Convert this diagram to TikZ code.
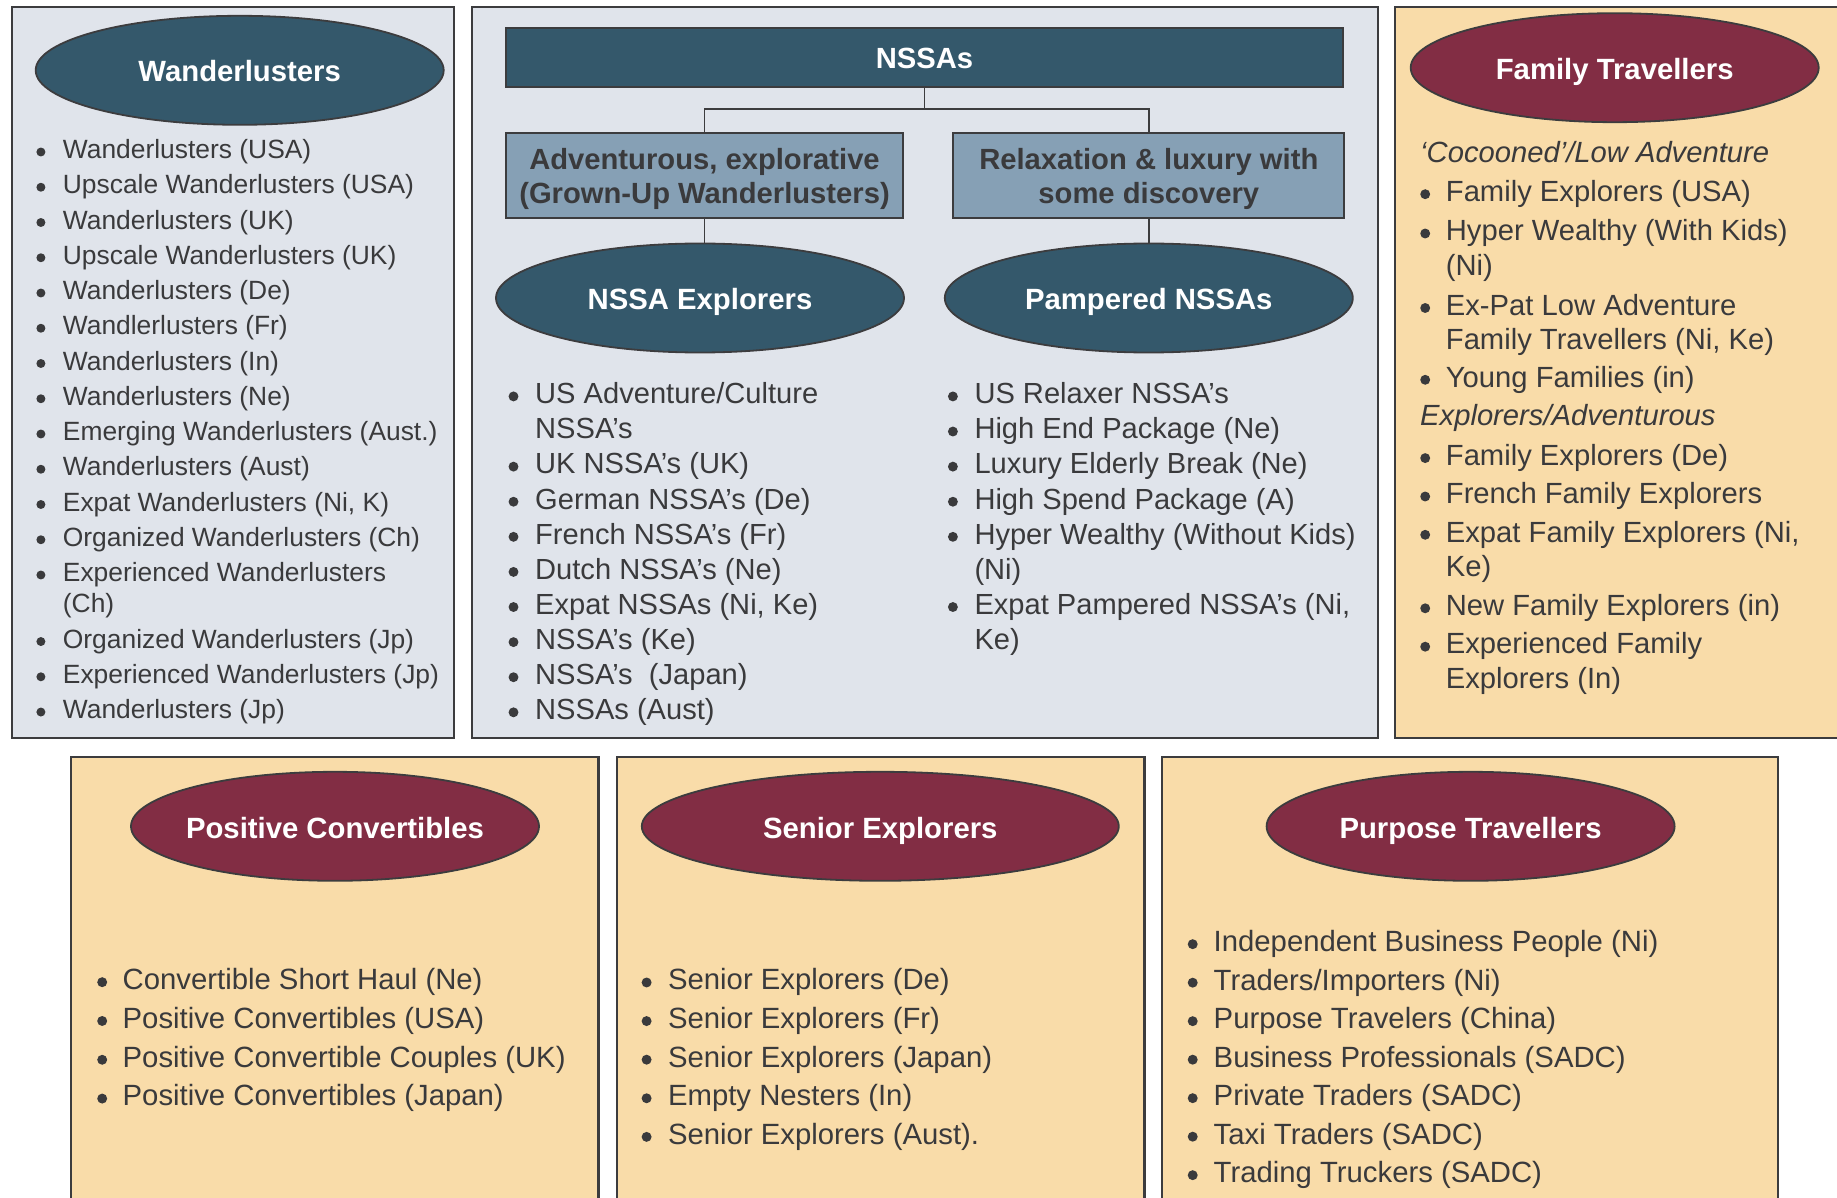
\documentclass[tikz,border=0pt]{standalone}
\usepackage{fontspec}
\setmainfont{Liberation Sans}
\usetikzlibrary{shapes.geometric}
\definecolor{txtc}{RGB}{58,58,60}
\definecolor{bluebg}{RGB}{224,228,235}
\definecolor{beigebg}{RGB}{249,220,169}
\definecolor{tealfill}{RGB}{52,88,107}
\definecolor{maroonfill}{RGB}{130,45,68}
\definecolor{boxfill}{RGB}{134,160,181}
\definecolor{edgec}{RGB}{60,60,62}
\newcommand\bul{\makebox[0pt][c]{\tikz[baseline=-0.25em]\fill[txtc] (0,0) circle[radius=0.17em];}}
\newcommand\ovtext[1]{\makebox[0pt][c]{#1}}
\begin{document}
\begin{tikzpicture}[x=1pt,y=-1pt,
  panel/.style={draw=edgec,line width=2.2pt},
  oval/.style={ellipse,draw=edgec,line width=1.8pt,minimum width=408pt,minimum height=109pt,inner sep=0pt,text=white,font=\fontsize{29.3}{35}\selectfont\bfseries,text height=23.4pt,text depth=0pt},
  ovalT/.style={oval,fill=tealfill},
  ovalM/.style={oval,fill=maroonfill},
  catbox/.style={rectangle,draw=edgec,line width=1.8pt,fill=boxfill,inner sep=0pt,align=center,text=txtc,font=\fontsize{29.2}{34.7}\selectfont\bfseries},
  listnode/.style={anchor=base west,inner sep=0pt,text=txtc},
  link/.style={draw=edgec,line width=1.7pt}]
\useasboundingbox (0,0) rectangle (1837,1198);
\fill[white] (0,0) rectangle (1837,1198);
\begin{scope}
\clip (0,0) rectangle (1837,1198);
% panels
\draw[panel,fill=bluebg] (12,7) rectangle (454,737.7);
\draw[panel,fill=bluebg] (471.7,7) rectangle (1377.7,737.7);
\draw[panel,fill=beigebg] (1395,7) rectangle (1850,737.7);
\draw[panel,fill=beigebg] (71,757) rectangle (598.5,1215);
\draw[panel,fill=beigebg] (617,757) rectangle (1144.5,1215);
\draw[panel,fill=beigebg] (1162,757) rectangle (1778,1215);

% title ovals
\node[ovalT] (wand) at (239.7,70.3) {\ovtext{Wanderlusters}};
\node[ovalM] (fam) at (1614.7,67.7) {\ovtext{Family Travellers}};
\node[ovalT] (nexp) at (700,298) {\ovtext{NSSA Explorers}};
\node[ovalT] (pamp) at (1148.8,298) {\ovtext{Pampered NSSAs}};
\node[ovalM] (posc) at (335,826.3) {\ovtext{Positive Convertibles}};
\node[ovalM,minimum width=477pt] (senr) at (880.3,826.3) {\ovtext{Senior Explorers}};
\node[ovalM] (purp) at (1470.6,826.3) {\ovtext{Purpose Travellers}};

% hierarchy in the NSSA panel
\node[catbox,fill=tealfill,text=white,minimum width=837.6pt,minimum height=59pt,text height=23pt,text depth=0pt] (nssas) at (924.5,57.2) {NSSAs};
\node[catbox,minimum width=397.6pt,minimum height=85pt] (adv) at (704.5,175.8) {\rule{0pt}{27.5pt}Adventurous, explorative\\(Grown-Up Wanderlusters)};
\node[catbox,minimum width=391pt,minimum height=85pt] (relax) at (1148.8,175.8) {\rule{0pt}{27.5pt}Relaxation \& luxury with\\some discovery};
\coordinate (fork) at (924.5,109);
\draw[link] (nssas.south) -- (fork) -| (adv.north);
\draw[link] (fork) -| (relax.north);
\draw[link] (adv.south) -- (adv.south |- nexp.north);
\draw[link] (relax.south) -- (relax.south |- pamp.north);

% lists
\node[listnode,font=\fontsize{26.4}{31.3}\selectfont] (wlist) at (40.7,158.6) {\begin{tabular}[t]{@{}l@{\hspace{22pt}}l@{}}
\bul & Wanderlusters (USA)\\[3.95pt]
\bul & Upscale Wanderlusters (USA)\\[3.95pt]
\bul & Wanderlusters (UK)\\[3.95pt]
\bul & Upscale Wanderlusters (UK)\\[3.95pt]
\bul & Wanderlusters (De)\\[3.95pt]
\bul & Wandlerlusters (Fr)\\[3.95pt]
\bul & Wanderlusters (In)\\[3.95pt]
\bul & Wanderlusters (Ne)\\[3.95pt]
\bul & Emerging Wanderlusters (Aust.)\\[3.95pt]
\bul & Wanderlusters (Aust)\\[3.95pt]
\bul & Expat Wanderlusters (Ni, K)\\[3.95pt]
\bul & Organized Wanderlusters (Ch)\\[3.95pt]
\bul & Experienced Wanderlusters\\
 & (Ch)\\[3.95pt]
\bul & Organized Wanderlusters (Jp)\\[3.95pt]
\bul & Experienced Wanderlusters (Jp)\\[3.95pt]
\bul & Wanderlusters (Jp)
\end{tabular}};

\node[listnode,font=\fontsize{29.1}{35.1}\selectfont] (nlist) at (513.3,403.7) {\begin{tabular}[t]{@{}l@{\hspace{21.7pt}}l@{}}
\bul & US Adventure/Culture\\
 & NSSA’s\\
\bul & UK NSSA’s (UK)\\
\bul & German NSSA’s (De)\\
\bul & French NSSA’s (Fr)\\
\bul & Dutch NSSA’s (Ne)\\
\bul & Expat NSSAs (Ni, Ke)\\
\bul & NSSA’s (Ke)\\
\bul & NSSA’s\ \ (Japan)\\
\bul & NSSAs (Aust)
\end{tabular}};

\node[listnode,font=\fontsize{29.1}{35.1}\selectfont] (plist) at (952.7,403.7) {\begin{tabular}[t]{@{}l@{\hspace{21.6pt}}l@{}}
\bul & US Relaxer NSSA’s\\
\bul & High End Package (Ne)\\
\bul & Luxury Elderly Break (Ne)\\
\bul & High Spend Package (A)\\
\bul & Hyper Wealthy (Without Kids)\\
 & (Ni)\\
\bul & Expat Pampered NSSA’s (Ni,\\
 & Ke)
\end{tabular}};

\node[listnode,font=\fontsize{29.2}{34.5}\selectfont] (flist) at (1425,162.5) {\begin{tabular}[t]{@{}l@{\hspace{20.7pt}}l@{}}
\multicolumn{2}{@{}l@{}}{\hspace*{-5pt}\itshape ‘Cocooned’/Low Adventure}\\[4.5pt]
\bul & Family Explorers (USA)\\[4.8pt]
\bul & Hyper Wealthy (With Kids)\\
 & (Ni)\\[5.5pt]
\bul & Ex-Pat Low Adventure\\
 & Family Travellers (Ni, Ke)\\[2.8pt]
\bul & Young Families (in)\\[3.8pt]
\multicolumn{2}{@{}l@{}}{\hspace*{-5pt}\itshape Explorers/Adventurous}\\[5.5pt]
\bul & Family Explorers (De)\\[3.9pt]
\bul & French Family Explorers\\[3.8pt]
\bul & Expat Family Explorers (Ni,\\
 & Ke)\\[4.5pt]
\bul & New Family Explorers (in)\\[3.9pt]
\bul & Experienced Family\\[0.5pt]
 & Explorers (In)
\end{tabular}};

\node[listnode,font=\fontsize{29.3}{38.8}\selectfont] (pclist) at (102,989.5) {\begin{tabular}[t]{@{}l@{\hspace{20.5pt}}l@{}}
\bul & Convertible Short Haul (Ne)\\
\bul & Positive Convertibles (USA)\\
\bul & Positive Convertible Couples (UK)\\
\bul & Positive Convertibles (Japan)
\end{tabular}};

\node[listnode,font=\fontsize{29.3}{38.6}\selectfont] (selist) at (646.4,989.8) {\begin{tabular}[t]{@{}l@{\hspace{21.5pt}}l@{}}
\bul & Senior Explorers (De)\\
\bul & Senior Explorers (Fr)\\
\bul & Senior Explorers (Japan)\\
\bul & Empty Nesters (In)\\
\bul & Senior Explorers (Aust).
\end{tabular}};

\node[listnode,font=\fontsize{29.3}{38.5}\selectfont] (ptlist) at (1192.5,951.5) {\begin{tabular}[t]{@{}l@{\hspace{21pt}}l@{}}
\bul & Independent Business People (Ni)\\
\bul & Traders/Importers (Ni)\\
\bul & Purpose Travelers (China)\\
\bul & Business Professionals (SADC)\\
\bul & Private Traders (SADC)\\
\bul & Taxi Traders (SADC)\\
\bul & Trading Truckers (SADC)
\end{tabular}};
\end{scope}
\end{tikzpicture}
\end{document}
